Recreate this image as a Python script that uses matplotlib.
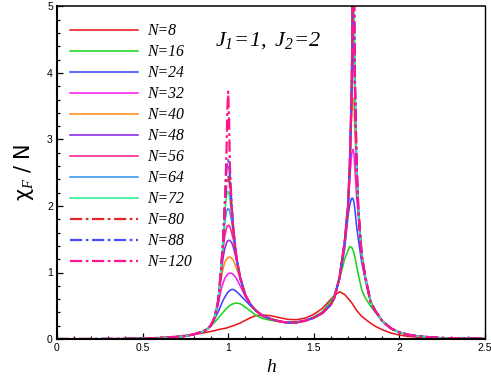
import matplotlib
matplotlib.use("Agg")
import matplotlib.pyplot as plt
from matplotlib.ticker import MultipleLocator

plt.rcParams['mathtext.fontset'] = 'custom'
plt.rcParams['mathtext.rm'] = 'Liberation Serif:italic'
plt.rcParams['mathtext.it'] = 'Liberation Serif:italic'

# ---------------- data ----------------
h = [0.0, 0.2, 0.4, 0.5, 0.6, 0.7, 0.75, 0.8, 0.85, 0.88,
     0.9, 0.92, 0.94, 0.95, 0.96, 0.97, 0.98, 0.99,
     0.995, 1.0, 1.005, 1.01, 1.02, 1.03, 1.04, 1.05,
     1.07, 1.1, 1.13, 1.16, 1.2, 1.25, 1.3, 1.35,
     1.4, 1.45, 1.5, 1.55, 1.6, 1.62, 1.65, 1.68,
     1.7, 1.71, 1.72, 1.725, 1.73, 1.735, 1.74, 1.75,
     1.76, 1.78, 1.8, 1.83, 1.86, 1.9, 1.95, 2.0,
     2.05, 2.1, 2.2, 2.3, 2.4, 2.5]

chi_N8 = [0.0, 0.001, 0.006, 0.012, 0.022, 0.04, 0.055, 0.07, 0.09, 0.105,
          0.115, 0.125, 0.14, 0.145, 0.15, 0.155, 0.16, 0.165,
          0.17, 0.175, 0.18, 0.185, 0.19, 0.2, 0.21, 0.22,
          0.24, 0.28, 0.32, 0.35, 0.36, 0.35, 0.32, 0.295,
          0.29, 0.315, 0.37, 0.46, 0.6, 0.65, 0.71, 0.67,
          0.61, 0.58, 0.55, 0.53, 0.51, 0.49, 0.47, 0.43,
          0.4, 0.34, 0.3, 0.24, 0.19, 0.14, 0.09, 0.06,
          0.04, 0.03, 0.015, 0.008, 0.005, 0.003]

chi_N16 = [0.0, 0.0, 0.003, 0.007, 0.014, 0.032, 0.047, 0.072, 0.115, 0.155,
           0.2, 0.25, 0.31, 0.34, 0.37, 0.4, 0.43, 0.46,
           0.47, 0.48, 0.495, 0.505, 0.52, 0.53, 0.537, 0.54,
           0.53, 0.48, 0.42, 0.36, 0.31, 0.28, 0.26, 0.25,
           0.255, 0.28, 0.33, 0.41, 0.57, 0.67, 0.9, 1.2,
           1.33, 1.39, 1.38, 1.36, 1.33, 1.29, 1.24, 1.1,
           0.97, 0.74, 0.62, 0.5, 0.4, 0.27, 0.16, 0.1,
           0.065, 0.045, 0.022, 0.012, 0.007, 0.004]

chi_N24 = [0.0, 0.0, 0.003, 0.007, 0.014, 0.03, 0.045, 0.07, 0.11, 0.15,
           0.21, 0.3, 0.4, 0.46, 0.52, 0.58, 0.63, 0.67,
           0.69, 0.71, 0.72, 0.73, 0.745, 0.745, 0.73, 0.71,
           0.66, 0.58, 0.5, 0.43, 0.355, 0.3, 0.265, 0.245,
           0.25, 0.275, 0.32, 0.39, 0.52, 0.62, 0.9, 1.35,
           1.85, 2.02, 2.11, 2.12, 2.1, 2.05, 1.95, 1.7,
           1.5, 1.15, 0.9, 0.57, 0.42, 0.27, 0.16, 0.1,
           0.065, 0.045, 0.022, 0.012, 0.007, 0.004]

chi_N32 = [0.0, 0.0, 0.003, 0.007, 0.014, 0.03, 0.045, 0.07, 0.11, 0.15,
           0.21, 0.31, 0.5, 0.63, 0.75, 0.84, 0.91, 0.95,
           0.97, 0.98, 0.987, 0.99, 0.99, 0.97, 0.94, 0.9,
           0.8, 0.64, 0.52, 0.43, 0.35, 0.3, 0.265, 0.245,
           0.25, 0.275, 0.32, 0.39, 0.52, 0.62, 0.92, 1.42,
           1.98, 2.4, 2.75, 2.84, 2.85, 2.78, 2.55, 2.15,
           1.85, 1.24, 0.95, 0.57, 0.42, 0.27, 0.16, 0.1,
           0.065, 0.045, 0.022, 0.012, 0.007, 0.004]

# shared segments of the large-N curves (they coincide away from the peaks)
env_low = [0.0, 0.0, 0.003, 0.007, 0.014, 0.03, 0.045, 0.07, 0.11, 0.15]          # h 0 .. 0.88
env_mid = [0.92, 0.66, 0.52, 0.43, 0.35, 0.3, 0.265, 0.245,
           0.25, 0.275, 0.32, 0.39, 0.52, 0.62, 0.92, 1.45]                      # h 1.07 .. 1.68
env_tail = [1.95, 1.25, 0.95, 0.57, 0.42, 0.27, 0.16, 0.1,
            0.065, 0.045, 0.022, 0.012, 0.007, 0.004]                            # h 1.76 .. 2.5

# h 0.9 .. 1.05 (first peak)
peak1_N40 = [0.21, 0.32, 0.53, 0.73, 0.92, 1.06, 1.15, 1.2,
             1.215, 1.225, 1.23, 1.232, 1.22, 1.18, 1.12, 1.05]
peak1_N48 = [0.21, 0.32, 0.55, 0.78, 1.02, 1.22, 1.36, 1.44,
             1.47, 1.48, 1.485, 1.48, 1.45, 1.38, 1.28, 1.16]
peak1_N56 = [0.21, 0.32, 0.55, 0.8, 1.08, 1.35, 1.55, 1.67,
             1.7, 1.71, 1.71, 1.69, 1.6, 1.5, 1.36, 1.2]
peak1_N64 = [0.21, 0.32, 0.55, 0.8, 1.1, 1.43, 1.75, 1.92,
             1.95, 1.96, 1.95, 1.9, 1.78, 1.6, 1.4, 1.2]
peak1_N72 = [0.21, 0.32, 0.55, 0.8, 1.1, 1.45, 1.9, 2.15,
             2.21, 2.22, 2.18, 2.1, 1.9, 1.65, 1.4, 1.2]
peak1_N80 = [0.21, 0.32, 0.55, 0.8, 1.1, 1.45, 1.98, 2.35,
             2.43, 2.45, 2.4, 2.3, 1.98, 1.65, 1.4, 1.2]
peak1_N88 = [0.21, 0.32, 0.55, 0.8, 1.1, 1.45, 2.0, 2.55,
             2.67, 2.69, 2.62, 2.45, 2.0, 1.65, 1.4, 1.2]
peak1_N120 = [0.21, 0.32, 0.55, 0.8, 1.1, 1.45, 2.0, 2.8,
              3.45, 3.72, 3.3, 2.6, 2.0, 1.65, 1.4, 1.2]

# h 1.7 .. 1.75 (second peak)
peak2_N40 = [2.0, 2.55, 3.3, 3.58, 3.62, 3.5, 3.15, 2.45]
peak2_N48 = [2.0, 2.6, 3.5, 4.15, 4.35, 4.15, 3.6, 2.55]
peak2_N56 = [2.0, 2.6, 3.6, 4.45, 5.1, 4.7, 3.85, 2.6]
peak2_N64 = [2.0, 2.6, 3.6, 4.5, 5.9, 5.0, 3.9, 2.6]
peak2_N72 = [2.0, 2.6, 3.6, 4.5, 6.7, 5.1, 3.9, 2.6]
peak2_N80 = [2.0, 2.6, 3.6, 4.5, 7.5, 5.15, 3.9, 2.6]
peak2_N88 = [2.0, 2.6, 3.6, 4.5, 8.3, 5.2, 3.9, 2.6]
peak2_N120 = [2.0, 2.6, 3.6, 4.5, 11.0, 5.2, 3.9, 2.6]

sizes = [8, 16, 24, 32, 40, 48, 56, 64, 72, 80, 88, 120]
colors = ['#e8191e', '#1ed21e', '#3c46ff', '#fa1ef0', '#ff8c14', '#8c28e6',
          '#ff1e8c', '#3296f0', '#28f08c', '#e02828', '#4b4bff', '#ff148c']
styles = ['-'] * 9 + ['dashdot'] * 3

series = [chi_N8, chi_N16, chi_N24, chi_N32]
for p1, p2 in [(peak1_N40, peak2_N40), (peak1_N48, peak2_N48), (peak1_N56, peak2_N56),
               (peak1_N64, peak2_N64), (peak1_N72, peak2_N72), (peak1_N80, peak2_N80),
               (peak1_N88, peak2_N88), (peak1_N120, peak2_N120)]:
    series.append(env_low + p1 + env_mid + p2 + env_tail)

# ---------------- figure ----------------
fig = plt.figure(figsize=(4.91, 3.77), dpi=100)
ax = fig.add_axes([57 / 491, 38 / 377, 428 / 491, 332.5 / 377])

for n, y, c, ls in zip(sizes, series, colors, styles):
    if ls == '-':
        ax.plot(h, y, color=c, lw=1.15, ls='-', label=f'N={n}')
    else:
        ax.plot(h, y, color=c, lw=1.6, ls=(0, (5.5, 1.6, 1.2, 1.6)), label=f'N={n}')

ax.set_xlim(0, 2.5)
ax.set_ylim(0, 5)
ax.xaxis.set_minor_locator(MultipleLocator(0.1))
ax.yaxis.set_minor_locator(MultipleLocator(0.2))
ax.set_xticks([0, 0.5, 1, 1.5, 2, 2.5])
ax.set_xticklabels(['0', '0.5', '1', '1.5', '2', '2.5'])
ax.set_yticks([0, 1, 2, 3, 4, 5])
ax.set_yticklabels(['0', '1', '2', '3', '4', '5'])
ax.tick_params(which='both', direction='in', top=False, right=False,
               labelsize=7.5, width=0.9, pad=3)
ax.tick_params(which='major', length=4.5)
ax.tick_params(which='minor', length=2.3)
for lab in ax.get_xticklabels() + ax.get_yticklabels():
    lab.set_fontfamily('Liberation Sans')

ax.spines['left'].set_linewidth(1.5)
ax.spines['bottom'].set_linewidth(1.5)
ax.spines['top'].set_linewidth(1.1)
ax.spines['right'].set_linewidth(1.0)

leg = ax.legend(loc='upper left', bbox_to_anchor=(-0.004, 0.995), frameon=False,
                prop={'family': 'Liberation Serif', 'style': 'italic', 'size': 11.3},
                handlelength=4.3, handletextpad=0.6, labelspacing=0.32,
                borderaxespad=0.0, borderpad=0.95)

ax.text(0.369, 0.884, r'$J_{1}\!=\!1,\ J_{2}\!=\!2$', transform=ax.transAxes,
        fontsize=16, va='baseline', ha='left')

ax.set_xlabel('h', fontsize=14, family='Liberation Serif', style='italic', labelpad=4)
fig.text(24 / 491, 1 - 172 / 377, r'$\mathsf{\chi}_{F}$ / N', rotation=90, fontsize=15,
         ha='center', va='center', family='DejaVu Sans')

fig.savefig('out.png', dpi=100)
